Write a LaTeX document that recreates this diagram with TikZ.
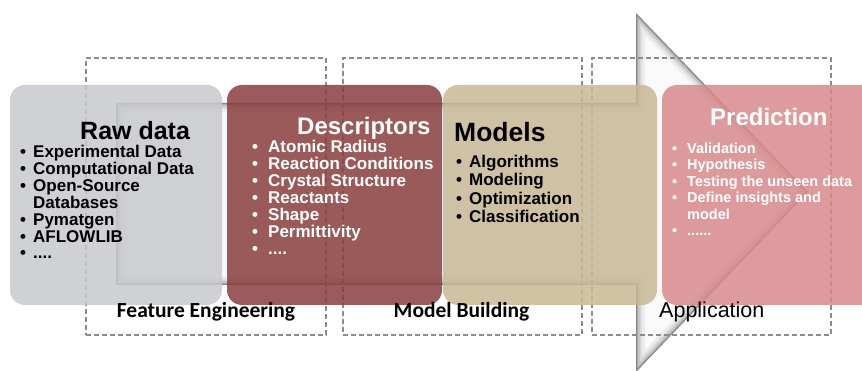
\documentclass[tikz,border=0pt]{standalone}
\usepackage{fontspec}
\setmainfont{Liberation Sans}
\newfontfamily\labelfont{Carlito}

\definecolor{rawfill}{RGB}{200,201,205}
\definecolor{descfill}{RGB}{138,62,63}
\definecolor{modelfill}{RGB}{200,185,149}
\definecolor{predfill}{RGB}{216,138,140}
\definecolor{dashgray}{RGB}{140,140,140}

% bullet list: first column holds the bullet, second the item
\newcommand{\bul}[1]{\makebox[#1][l]{\textbullet}}
\newcommand{\itemlist}[3]{{\fontsize{#1}{#2}\selectfont
  \renewcommand{\arraystretch}{1}\begin{tabular}[t]{@{}l@{}}#3\end{tabular}}}

\tikzset{
  stagebox/.style={rounded corners=15pt, fill opacity=0.85, inner sep=0pt,
    minimum height=220pt},
  phasebox/.style={draw=dashgray, dash pattern=on 5pt off 3pt, line width=1.2pt,
    inner sep=0pt, minimum height=277pt, minimum width=239pt},
  stagetitle/.style={anchor=base west, inner sep=0pt, font=\bfseries\fontsize{24}{24}\selectfont},
  stagelist/.style={anchor=base west, inner sep=0pt, font=\bfseries},
  phaselabel/.style={anchor=base, inner sep=0pt, font=\labelfont\bfseries\fontsize{21.5}{22}\selectfont},
}

\begin{document}
\begin{tikzpicture}[x=1pt, y=-1pt]
\clip (0,0) rectangle (862,371);
\fill[white] (0,0) rectangle (862,371);

% large background arrow with a bevelled inner shadow
\def\arrowpath{(116,103) -- (636,103) -- (636,13) -- (808,192) -- (636,372)
  -- (636,285) -- (116,285) -- cycle}
\fill[gray!4] \arrowpath;
\begin{scope}
  \clip \arrowpath;
  \foreach \w/\o in {18/0.05, 12/0.07, 8/0.09, 4/0.14, 2/0.2}
    \draw[line width=\w pt, draw=black, opacity=\o, line join=miter] \arrowpath;
\end{scope}

% dashed phase frames
\node[phasebox, minimum width=240pt] (fe)  at (206,196.5) {};
\node[phasebox] (mb)  at (462.5,196.5) {};
\node[phasebox] (app) at (711.5,196.5) {};

% stage boxes
\node[stagebox, fill=rawfill,   minimum width=212pt] (raw)   at (116,195) {};
\node[stagebox, fill=descfill,  minimum width=215pt] (desc)  at (334.5,195) {};
\node[stagebox, fill=modelfill, minimum width=214pt] (model) at (550,195) {};
\node[stagebox, fill=predfill,  minimum width=215pt] (pred)  at (769.5,195) {};

% Raw data
\node[stagetitle, font=\bfseries\fontsize{25}{25}\selectfont] (rawt) at (80,140) {Raw data};
\node[stagelist] (rawl) at (20,157.5) {\itemlist{17}{16.3}{%
  \bul{13pt}Experimental Data\\
  \bul{13pt}Computational Data\\
  \bul{13pt}Open-Source\\
  \hspace*{13pt}Databases\\
  \bul{13pt}Pymatgen\\
  \bul{13pt}AFLOWLIB\\
  \bul{13pt}....}};

% Descriptors
\node[stagetitle, text=white] (desct) at (297,135) {Descriptors};
\node[stagelist, text=white] (descl) at (252,152.5) {\itemlist{17}{16.3}{%
  \bul{16pt}Atomic Radius\\
  \bul{16pt}Reaction Conditions\\
  \bul{16pt}Crystal Structure\\
  \bul{16pt}Reactants\\
  \bul{16pt}Shape\\
  \bul{16pt}Permittivity\\
  \bul{16pt}....}};

% Models
\node[stagetitle, font=\bfseries\fontsize{26.5}{26.5}\selectfont] (modelt) at (454,142) {Models};
\node[stagelist] (modell) at (456,167.5) {\itemlist{17}{18.3}{%
  \bul{13pt}Algorithms\\
  \bul{13pt}Modeling\\
  \bul{13pt}Optimization\\
  \bul{13pt}Classification}};

% Prediction
\node[stagetitle, text=white] (predt) at (710,126) {Prediction};
\node[stagelist, text=white] (predl) at (672,153.5) {\itemlist{14.5}{16.5}{%
  \bul{15pt}Validation\\
  \bul{15pt}Hypothesis\\
  \bul{15pt}Testing the unseen data\\
  \bul{15pt}Define insights and\\
  \hspace*{15pt}model\\
  \bul{15pt}......}};

% phase labels
\node[phaselabel] (fel) at (206,317) {Feature Engineering};
\node[phaselabel] (mbl) at (461.5,317) {Model Building};
\node[anchor=base west, inner sep=0pt, font=\fontsize{21.5}{22}\selectfont] (appl) at (659,317) {Application};
\end{tikzpicture}
\end{document}
